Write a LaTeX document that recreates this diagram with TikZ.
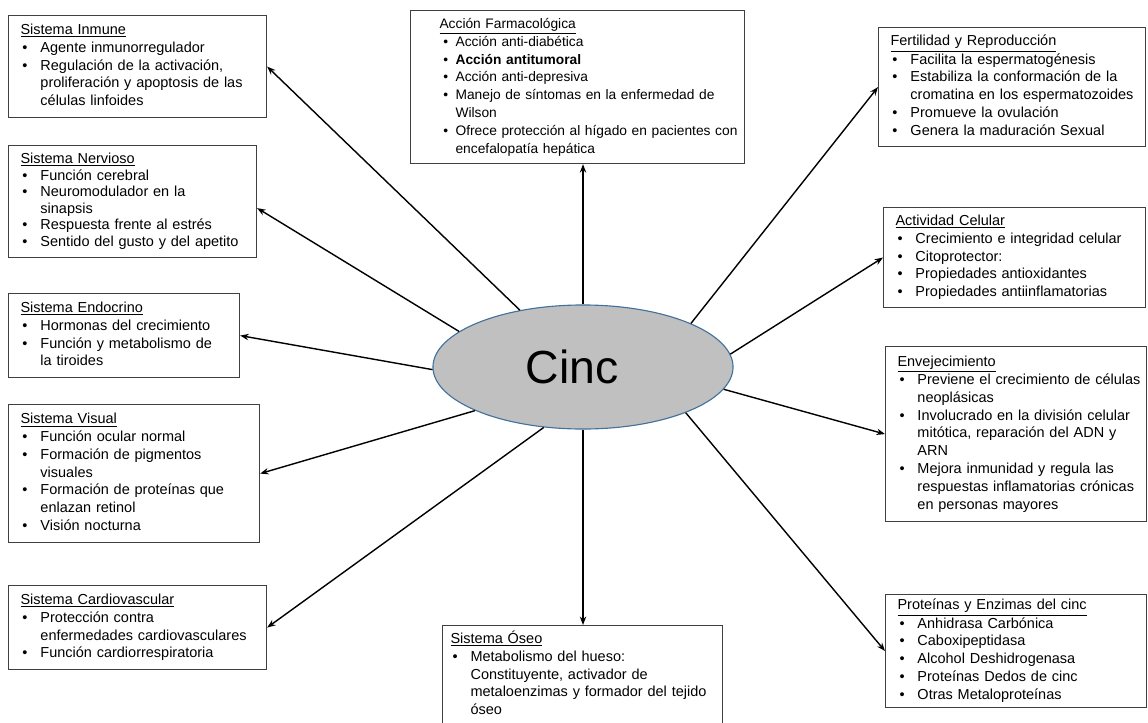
\documentclass[tikz,border=0pt]{standalone}
\usepackage{fontspec}
\setmainfont{Liberation Sans}
\usetikzlibrary{arrows.meta,shapes.geometric}
\definecolor{HubGray}{HTML}{C0C0C0}
\definecolor{HubBlue}{HTML}{41719C}
\definecolor{BoxGray}{HTML}{404040}
\newlength\bulind
\newlength\txtind
\setlength\bulind{1.4pt}
\setlength\txtind{14.2pt}
\newcommand{\bl}{\hspace*{\bulind}\makebox[\dimexpr\txtind-\bulind\relax][l]{\textbullet}}
\newcommand{\cl}{\hspace*{\txtind}}
\newcommand{\boxlines}[1]{\begin{tabular}{@{}l@{}}#1\end{tabular}}

\begin{document}
\begin{tikzpicture}[
    x=0.025cm, y=-0.025cm,
    infobox/.style={draw=BoxGray,line width=0.8pt,fill=white,anchor=north west,align=left,inner xsep=8.5pt,inner ysep=2pt,font=\fontsize{10.3}{12.66}\selectfont},
    hub/.style={ellipse,draw=HubBlue,line width=0.8pt,fill=HubGray,minimum width=7.5cm,minimum height=3.1cm,inner sep=0pt,font=\fontsize{33}{36}\selectfont},
    arrow/.style={-{Stealth[length=6pt,width=4.5pt]},line width=1pt,black}
]
  \clip (0,0) rectangle (1148,722);
  \node[hub] (cinc) at (583,367) {Cinc\hspace*{0.55cm}};

  \node[infobox, text width=166.5pt, minimum height=2.55cm] (inmune) at (8,15) {\boxlines{\underline{Sistema Inmune}\\
    \bl Agente inmunorregulador\\
    \bl Regulación de la activación,\\
    \cl proliferación y apoptosis de las\\
    \cl células linfoides}};
  \node[infobox, text width=159.4pt, minimum height=2.8cm, font=\fontsize{10.3}{11.8}\selectfont] (nervioso) at (8,145) {\boxlines{\underline{Sistema Nervioso}\\
    \bl Función cerebral\\
    \bl Neuromodulador en la\\
    \cl sinapsis\\
    \bl Respuesta frente al estrés\\
    \bl Sentido del gusto y del apetito}};
  \node[infobox, text width=147.3pt, minimum height=2.1cm] (endocrino) at (8,293) {\boxlines{\underline{Sistema Endocrino}\\
    \bl Hormonas del crecimiento\\
    \bl Función y metabolismo de\\
    \cl la tiroides}};
  \node[infobox, text width=161.5pt, minimum height=3.45cm] (visual) at (8,404) {\boxlines{\underline{Sistema Visual}\\
    \bl Función ocular normal\\
    \bl Formación de pigmentos\\
    \cl visuales\\
    \bl Formación de proteínas que\\
    \cl enlazan retinol\\
    \bl Visión nocturna}};
  \node[infobox, text width=166.5pt, minimum height=2.1cm] (cardio) at (8,585) {\boxlines{\underline{Sistema Cardiovascular}\\
    \bl Protección contra\\
    \cl enfermedades cardiovasculares\\
    \bl Función cardiorrespiratoria}};
  \node[infobox, inner xsep=5.7pt, text width=187.8pt, minimum height=2.5cm] (oseo) at (442,625) {\boxlines{\underline{Sistema Óseo}\\
    \bl Metabolismo del hueso:\\
    \cl Constituyente, activador de\\
    \cl metaloenzimas y formador del tejido\\
    \cl óseo}};
  \node[infobox, inner xsep=20.6pt, text width=196.4pt, minimum height=3.825cm, font=\fontsize{9.8}{12.66}\selectfont,
        execute at begin node={\setlength\bulind{2.8pt}\setlength\txtind{11.4pt}}] (farma) at (410,10) {\boxlines{\underline{Acción Farmacológica}\\
    \bl Acción anti-diabética\\
    \bl \textbf{Acción antitumoral}\\
    \bl Acción anti-depresiva\\
    \bl Manejo de síntomas en la enfermedad de\\
    \cl Wilson\\
    \bl Ofrece protección al hígado en pacientes con\\
    \cl encefalopatía hepática}};
  \node[infobox, text width=172.9pt, minimum height=2.975cm] (fertilidad) at (878,27) {\boxlines{\underline{Fertilidad y Reproducción}\\
    \bl Facilita la espermatogénesis\\
    \bl Estabiliza la conformación de la\\
    \cl cromatina en los espermatozoides\\
    \bl Promueve la ovulación\\
    \bl Genera la maduración Sexual}};
  \node[infobox, text width=169.4pt, minimum height=2.5cm] (celular) at (883,207) {\boxlines{\underline{Actividad Celular}\\
    \bl Crecimiento e integridad celular\\
    \bl Citoprotector:\\
    \bl Propiedades antioxidantes\\
    \bl Propiedades antiinflamatorias}};
  \node[infobox, text width=168.6pt, minimum height=4.375cm] (envejec) at (885,346) {\boxlines{\underline{Envejecimiento}\\
    \bl Previene el crecimiento de células\\
    \cl neoplásicas\\
    \bl Involucrado en la división celular\\
    \cl mitótica, reparación del ADN y\\
    \cl ARN\\
    \bl Mejora inmunidad y regula las\\
    \cl respuestas inflamatorias crónicas\\
    \cl en personas mayores}};
  \node[infobox, text width=168.6pt, minimum height=2.75cm] (enzimas) at (885,594) {\boxlines{\underline{Proteínas y Enzimas del cinc}\\
    \bl Anhidrasa Carbónica\\
    \bl Caboxipeptidasa\\
    \bl Alcohol Deshidrogenasa\\
    \bl Proteínas Dedos de cinc\\
    \bl Otras Metaloproteínas}};

  \draw[arrow] (cinc.138) -- (inmune.east);
  \draw[arrow] (cinc.164) -- (nervioso.-3);
  \draw[arrow] (cinc.181) -- (endocrino.east);
  \draw[arrow] (cinc.202) -- (visual.east);
  \draw[arrow] (cinc.237) -- (cardio.east);
  \draw[arrow] (cinc.270) -- (cinc.270 |- oseo.north);
  \draw[arrow] (cinc.90) -- (cinc.90 |- farma.south);
  \draw[arrow] (cinc.22) -- (fertilidad.west);
  \draw[arrow] (cinc.5) -- (celular.west);
  \draw[arrow] (cinc.351) -- (envejec.west);
  \draw[arrow] (cinc.336) -- (enzimas.west);
\end{tikzpicture}
\end{document}
